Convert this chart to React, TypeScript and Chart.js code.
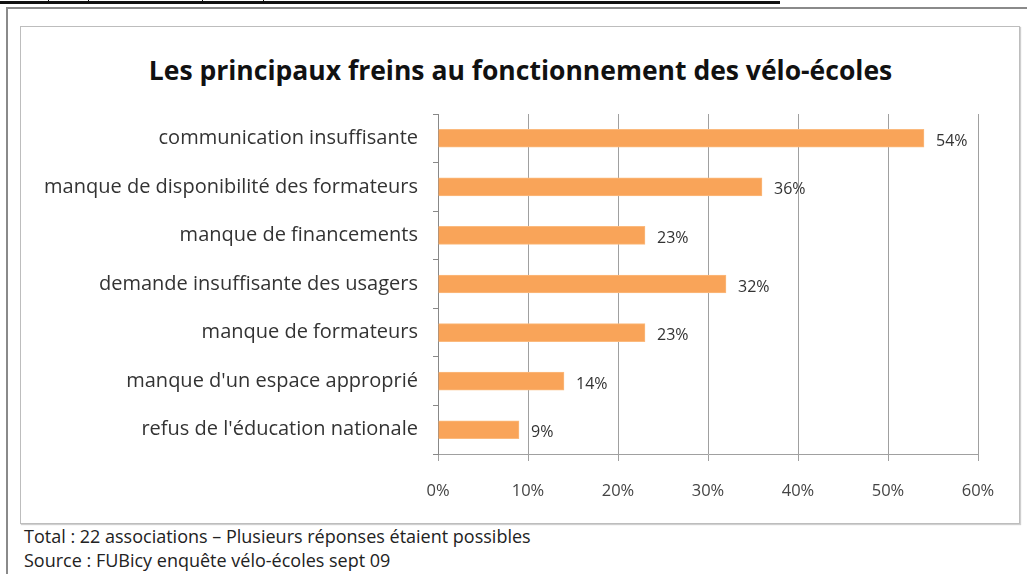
import React, { useEffect, useRef } from "react";
import { Chart, registerables } from "chart.js";

Chart.register(...registerables);

const TITLE = "Les principaux freins au fonctionnement des vélo-écoles";
const categories = [
  "communication insuffisante",
  "manque de disponibilité des formateurs",
  "manque de financements",
  "demande insuffisante des usagers",
  "manque de formateurs",
  "manque d'un espace approprié",
  "refus de l'éducation nationale",
];
const values = [54, 36, 23, 32, 23, 14, 9];
const xTicks = [0, 10, 20, 30, 40, 50, 60];
const footnotes = [
  "Total : 22 associations – Plusieurs réponses étaient possibles",
  "Source : FUBicy enquête vélo-écoles sept 09",
];

const FONT = "'Open Sans', 'DejaVu Sans', sans-serif";

const valueLabels = {
  id: "valueLabels",
  afterDatasetsDraw(chart: any) {
    const ctx = chart.ctx;
    const meta = chart.getDatasetMeta(0);
    ctx.save();
    ctx.font = `16px ${FONT}`;
    ctx.fillStyle = "#333";
    ctx.textBaseline = "middle";
    ctx.textAlign = "left";
    meta.data.forEach((bar: any, i: number) => {
      ctx.fillText(`${values[i]}%`, bar.x + 12, bar.y + 3);
    });
    ctx.restore();
  },
};

export default function App() {
  const ref = useRef<HTMLCanvasElement>(null);
  useEffect(() => {
    if (!ref.current) return;
    const chart = new Chart(ref.current, {
      type: "bar",
      data: {
        labels: categories,
        datasets: [
          {
            data: values,
            backgroundColor: "#F9A459",
            borderColor: "#FBBA7E",
            borderWidth: 1,
            barThickness: 18,
          },
        ],
      },
      options: {
        indexAxis: "y",
        animation: false,
        responsive: false,
        maintainAspectRatio: false,
        layout: { padding: { left: 0, right: 42, top: 14, bottom: 0 } },
        plugins: {
          legend: { display: false },
          tooltip: { enabled: false },
          title: { display: false },
        },
        scales: {
          x: {
            min: 0,
            max: 60,
            afterBuildTicks: (scale: any) => {
              scale.ticks = xTicks.map((v) => ({ value: v }));
            },
            afterFit: (scale: any) => {
              scale.height = 70;
              scale.paddingLeft = 0;
              scale.paddingRight = 0;
            },
            ticks: {
              callback: (v: any) => `${v}%`,
              font: { family: FONT, size: 16.5 },
              color: "#444",
              padding: 20,
            },
            grid: {
              color: "#a0a0a0",
              lineWidth: 1,
              tickLength: 7,
              drawTicks: true,
            },
            border: { color: "#a0a0a0", width: 1 },
          },
          y: {
            afterFit: (scale: any) => {
              scale.width = 417;
              scale.paddingTop = 0;
              scale.paddingBottom = 0;
            },
            ticks: {
              font: { family: FONT, size: 20 },
              color: "#333",
              padding: 15,
            },
            grid: {
              offset: true,
              drawOnChartArea: false,
              drawTicks: true,
              tickLength: 5,
              color: "#888",
            },
            border: { color: "#888", width: 1 },
          },
        },
      },
      plugins: [valueLabels],
    });
    return () => chart.destroy();
  }, []);

  return (
    <div
      style={{
        position: "absolute",
        left: 0,
        top: 0,
        width: 1027,
        height: 574,
        background: "#fff",
        overflow: "hidden",
        fontFamily: FONT,
      }}
    >
      <div style={{ position: "absolute", left: 0, top: 1, width: 780, height: 3, background: "#111" }} />
      {[48, 88, 202, 263].map((x) => (
        <div key={x} style={{ position: "absolute", left: x, top: 0, width: 1, height: 2, background: "#111" }} />
      ))}
      <div style={{ position: "absolute", left: 7, top: 7, width: 1020, height: 2, background: "#8a8a8a" }} />
      <div style={{ position: "absolute", left: 6, top: 7, width: 2, height: 567, background: "#8a8a8a" }} />
      <div
        style={{
          position: "absolute",
          left: 20,
          top: 26,
          width: 998,
          height: 496,
          border: "1px solid #bdbdbd",
          boxShadow: "1px 1px 1px #cfcfcf",
          background: "#fff",
        }}
      />
      <div
        style={{
          position: "absolute",
          left: 21,
          top: 50,
          width: 999,
          textAlign: "center",
          fontSize: 26.5,
          fontWeight: 700,
          color: "#111",
          lineHeight: "40px",
          whiteSpace: "nowrap",
        }}
      >
        {TITLE}
      </div>
      <div style={{ position: "absolute", left: 21, top: 100, width: 999, height: 424 }}>
        <canvas ref={ref} width={999} height={424} style={{ width: 999, height: 424 }} />
      </div>
      {footnotes.map((t, i) => (
        <div
          key={i}
          style={{
            position: "absolute",
            left: 24,
            top: 525 + i * 24,
            fontSize: 18,
            color: "#222",
            lineHeight: "22px",
            whiteSpace: "nowrap",
          }}
        >
          {t}
        </div>
      ))}
    </div>
  );
}
